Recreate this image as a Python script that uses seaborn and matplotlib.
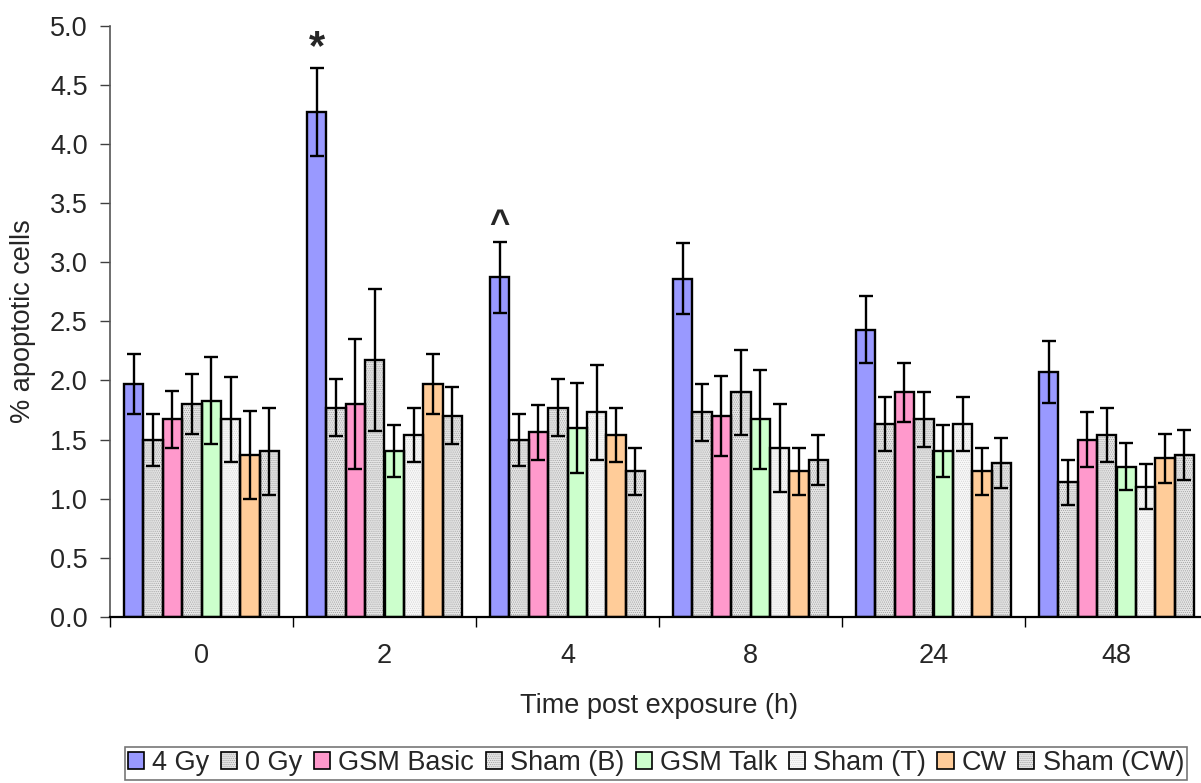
import matplotlib
matplotlib.use("Agg")
import matplotlib.pyplot as plt
from matplotlib.patches import Rectangle, Patch
from matplotlib.legend_handler import HandlerTuple
import seaborn as sns
import pandas as pd
import numpy as np

times = ["0", "2", "4", "8", "24", "48"]
groups = ["4 Gy", "0 Gy", "GSM Basic", "Sham (B)", "GSM Talk", "Sham (T)", "CW", "Sham (CW)"]

means = {
    "4 Gy":      [1.97, 4.27, 2.87, 2.86, 2.43, 2.07],
    "0 Gy":      [1.50, 1.77, 1.50, 1.73, 1.63, 1.14],
    "GSM Basic": [1.67, 1.80, 1.56, 1.70, 1.90, 1.50],
    "Sham (B)":  [1.80, 2.17, 1.77, 1.90, 1.67, 1.54],
    "GSM Talk":  [1.83, 1.40, 1.60, 1.67, 1.40, 1.27],
    "Sham (T)":  [1.67, 1.54, 1.73, 1.43, 1.63, 1.10],
    "CW":        [1.37, 1.97, 1.54, 1.23, 1.23, 1.34],
    "Sham (CW)": [1.40, 1.70, 1.23, 1.33, 1.30, 1.37],
}
errors = {
    "4 Gy":      [0.25, 0.37, 0.30, 0.30, 0.28, 0.26],
    "0 Gy":      [0.22, 0.24, 0.22, 0.24, 0.23, 0.19],
    "GSM Basic": [0.24, 0.55, 0.23, 0.34, 0.25, 0.23],
    "Sham (B)":  [0.25, 0.60, 0.24, 0.36, 0.23, 0.23],
    "GSM Talk":  [0.37, 0.22, 0.38, 0.42, 0.22, 0.20],
    "Sham (T)":  [0.36, 0.23, 0.40, 0.37, 0.23, 0.19],
    "CW":        [0.37, 0.25, 0.23, 0.20, 0.20, 0.21],
    "Sham (CW)": [0.37, 0.24, 0.20, 0.21, 0.21, 0.21],
}
annotations = {("2", "4 Gy"): "*", ("4", "4 Gy"): "^"}

face = {"4 Gy": "#9999FF", "0 Gy": "#e6e6e6", "GSM Basic": "#FF99CC", "Sham (B)": "#e6e6e6",
        "GSM Talk": "#CCFFCC", "Sham (T)": "#f8f8f8", "CW": "#FFCC99", "Sham (CW)": "#e6e6e6"}
hatch_col = {"0 Gy": "#a0a0a0", "Sham (B)": "#a0a0a0", "Sham (T)": "#d4d4d4", "Sham (CW)": "#a0a0a0"}
HATCH = "........"

rows = []
for g in groups:
    for t, m in zip(times, means[g]):
        rows.append({"time": t, "group": g, "value": m})
df = pd.DataFrame(rows)

sns.set_style("white")
plt.rcParams["font.family"] = ["Liberation Sans", "DejaVu Sans"]
plt.rcParams["hatch.linewidth"] = 0.5

FS = 19.5
W, H = 1201, 783
fig = plt.figure(figsize=(W / 100, H / 100), dpi=100)
ax = fig.add_axes([110 / W, 1 - 617 / H, 1098 / W, (617 - 25.5) / H])

sns.barplot(data=df, x="time", y="value", hue="group", order=times, hue_order=groups,
            palette=face, width=0.847, errorbar=None, ax=ax, legend=False,
            saturation=1, linewidth=0, edgecolor="none", zorder=2)

for cont, g in zip(ax.containers, groups):
    for p, t, e in zip(cont.patches, times, errors[g]):
        x, w, h = p.get_x(), p.get_width(), p.get_height()
        if g in hatch_col:
            p.set_edgecolor(hatch_col[g])
            p.set_hatch(HATCH)
            p.set_linewidth(0)
        ax.add_patch(Rectangle((x, 0), w, h, fill=False, ec="black", lw=1.7, zorder=3))
        xc = x + w / 2
        ax.errorbar(xc, h, yerr=e, fmt="none", ecolor="black", elinewidth=1.7,
                    capsize=5, capthick=1.7, zorder=4)
        if (t, g) in annotations:
            s = annotations[(t, g)]
            if s == "*":
                ax.text(xc, h + e + 0.0, s, ha="center", va="bottom", fontsize=30,
                        fontweight="bold", zorder=5)
            else:
                ax.text(xc, h + e + 0.01, s, ha="center", va="bottom", fontsize=25,
                        fontweight="bold", zorder=5)

ax.set_xlim(-0.5, 5.5)
ax.set_ylim(0, 5.0)
ax.set_yticks(np.arange(0, 5.01, 0.5))
ax.set_yticklabels([f"{v:.1f}" for v in np.arange(0, 5.01, 0.5)], fontsize=FS)
ax.set_xticks(range(len(times)))
ax.set_xticklabels(times, fontsize=FS)
ax.set_xticks(np.arange(-0.5, 5.6, 1.0), minor=True)
ax.tick_params(axis="x", which="major", length=0, pad=19)
ax.tick_params(axis="x", which="minor", length=7, width=1, color="black", direction="out", bottom=True)
ax.tick_params(axis="y", which="major", length=7, width=1, color="#404040", direction="out", left=True, pad=9)

for s in ["top", "right"]:
    ax.spines[s].set_visible(False)
ax.spines["left"].set_color("#555555")
ax.spines["left"].set_linewidth(1.2)
ax.spines["bottom"].set_color("black")
ax.spines["bottom"].set_linewidth(1.6)

ax.set_xlabel("Time post exposure (h)", fontsize=FS, labelpad=17)
ax.set_ylabel("% apoptotic cells", fontsize=FS, labelpad=10)

handles = []
for g in groups:
    outline = Patch(facecolor="none", edgecolor="black", lw=1.2)
    if g in hatch_col:
        fillp = Patch(facecolor=face[g], edgecolor=hatch_col[g], hatch=HATCH, lw=0)
    else:
        fillp = Patch(facecolor=face[g], edgecolor="none", lw=0)
    handles.append((fillp, outline))
leg = fig.legend(handles, groups, loc="upper center", bbox_to_anchor=(656 / W, 1 - 747 / H),
                 ncol=8, fontsize=19.5, frameon=True, fancybox=False, handlelength=0.6,
                 handleheight=0.6, handletextpad=0.3, columnspacing=0.42,
                 borderpad=0.12, borderaxespad=0,
                 handler_map={tuple: HandlerTuple(ndivide=1)})
leg.get_frame().set_edgecolor("#555555")
leg.get_frame().set_linewidth(1.2)

fig.savefig("out.png", dpi=100)
